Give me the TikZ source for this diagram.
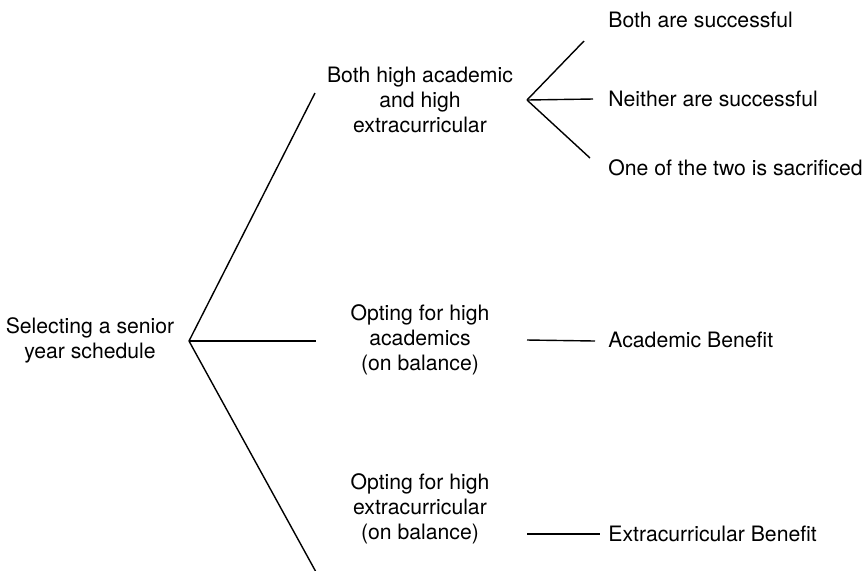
\documentclass[tikz,border=0pt]{standalone}
\usepackage{fontspec}
\setmainfont{TeX Gyre Heros}
\tikzset{
	choice/.style={align=center, inner sep=0pt, font=\fontsize{10.6}{12.4}\selectfont},
	outcome/.style={anchor=west, inner sep=0pt, font=\fontsize{10.6}{12.4}\selectfont},
	branch/.style={draw, line width=0.7pt}
}

\begin{document}
\begin{tikzpicture}[x=0.5pt, y=-0.5pt]
		\useasboundingbox (0,0) rectangle (868,570);
		
		\node[choice] (root) at (90,340) {Selecting a senior\\year schedule};
		\node[choice] (both) at (420,100) {Both high academic\\and high\\extracurricular};
		\node[choice] (acad) at (420,340) {Opting for high\\academics\\(on balance)};
		\node[choice] (extra) at (420,509) {Opting for high\\extracurricular\\(on balance)};
		
		\node[outcome] (success) at (608,20) {Both are successful};
		\node[outcome] (neither) at (608,99) {Neither are successful};
		\node[outcome] (sacrifice) at (608,168) {One of the two is sacrificed};
		\node[outcome] (acadben) at (608,340) {Academic Benefit};
		\node[outcome] (extraben) at (608,534) {Extracurricular Benefit};
		
		% ends of the branches
		\coordinate (fork) at (189,341);
		\coordinate (both-in) at (315,93);
		\coordinate (acad-in) at (316,341);
		\coordinate (extra-in) at (316,572);
		\coordinate (both-out) at (527,100);
		\coordinate (success-in) at (584,41);
		\coordinate (neither-in) at (593,99);
		\coordinate (sacrifice-in) at (590,158);
		\coordinate (acad-out) at (527,340);
		\coordinate (acadben-in) at (595,341);
		\coordinate (extra-out) at (527,534);
		\coordinate (extraben-in) at (600,534);
		
		\draw[branch] (fork) -- (both-in);
		\draw[branch] (fork) -- (acad-in);
		\draw[branch] (fork) -- (extra-in);
		\draw[branch] (both-out) -- (success-in);
		\draw[branch] (both-out) -- (neither-in);
		\draw[branch] (both-out) -- (sacrifice-in);
		\draw[branch] (acad-out) -- (acadben-in);
		\draw[branch] (extra-out) -- (extraben-in);
	\end{tikzpicture}
\end{document}
